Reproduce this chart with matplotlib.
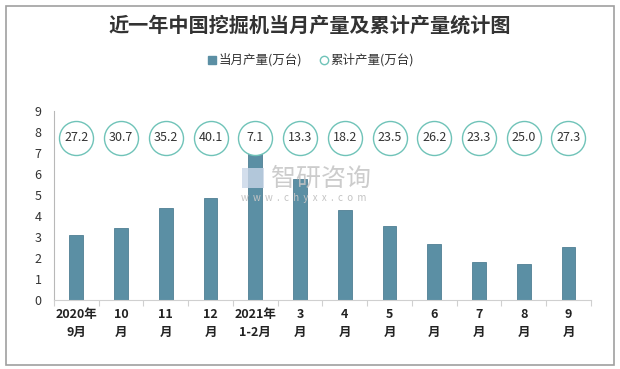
import matplotlib.pyplot as plt
import matplotlib.patches as mpatches
from matplotlib.lines import Line2D

plt.rcParams['font.family'] = ['Noto Sans CJK SC', 'DejaVu Sans']

months = ['2020年\n9月', '10\n月', '11\n月', '12\n月', '2021年\n1-2月', '3\n月',
          '4\n月', '5\n月', '6\n月', '7\n月', '8\n月', '9\n月']
monthly = [3.11, 3.44, 4.39, 4.87, 7.04, 5.77, 4.30, 3.54, 2.69, 1.79, 1.70, 2.54]
cumulative = ['27.2', '30.7', '35.2', '40.1', '7.1', '13.3', '18.2', '23.5',
              '26.2', '23.3', '25.0', '27.3']

bar_color = '#5b8fa4'
circle_color = '#6fc3b8'

fig = plt.figure(figsize=(6.2, 3.69), dpi=100)
ax = fig.add_axes([0.087, 0.187, 0.866, 0.512])

x = range(len(months))
ax.bar(x, monthly, width=0.31, color=bar_color, edgecolor='#4f7f93', linewidth=0.6, zorder=2)

# cumulative values shown as circles in a row near the top
circle_y = 7.72
ax.scatter(x, [circle_y] * len(x), s=600, facecolors='white', edgecolors=circle_color,
           linewidths=1.0, zorder=3, clip_on=False)
for i, v in enumerate(cumulative):
    ax.text(i, circle_y, v, ha='center', va='center', fontsize=9, color='#333333', zorder=4)

ax.set_xlim(-0.5, len(months) - 0.5)
ax.set_ylim(0, 9)
ax.set_yticks(range(10))
ax.tick_params(axis='y', length=0, labelsize=9, colors='#333333', pad=9)
ax.set_xticks([i - 0.5 for i in range(len(months) + 1)], minor=False)
ax.set_xticklabels([])
ax.set_xticks(list(x), minor=True)
ax.set_xticklabels(months, minor=True, fontsize=9, fontweight='bold', color='#222222',
                   linespacing=1.5)
ax.tick_params(axis='x', which='major', length=4, color='#d0d0d0')
ax.tick_params(axis='x', which='minor', length=0, pad=6)

for s in ['top', 'right']:
    ax.spines[s].set_visible(False)
ax.spines['left'].set_color('#b8b8b8')
ax.spines['bottom'].set_color('#d0d0d0')

# watermark
fig.patches.append(mpatches.Rectangle((0.39, 0.49), 0.035, 0.055, transform=fig.transFigure,
                                      facecolor='#c9d6e8', edgecolor='none', alpha=0.8, zorder=1))
fig.text(0.437, 0.515, '智研咨询', fontsize=18, color='#c4c4c4', alpha=0.85, ha='left', va='center')
fig.text(0.388, 0.463, 'w  w  w  .  c  h  y  x  x  .  c  o  m', fontsize=7, color='#c4c4c4',
         ha='left', va='center')

fig.text(0.5, 0.932, '近一年中国挖掘机当月产量及累计产量统计图', ha='center', va='center',
         fontsize=14.5, fontweight='bold', color='#333333')

handles = [
    Line2D([], [], marker='s', linestyle='none', markersize=6, markerfacecolor=bar_color,
           markeredgecolor=bar_color, label='当月产量(万台)'),
    Line2D([], [], marker='o', linestyle='none', markersize=6, markerfacecolor='white',
           markeredgecolor=circle_color, label='累计产量(万台)'),
]
fig.legend(handles=handles, loc='center', bbox_to_anchor=(0.5, 0.837), ncol=2, frameon=False,
           fontsize=9, handletextpad=0.05, columnspacing=1.2, handlelength=1.0,
           labelcolor='#333333')

fig.patches.append(mpatches.Rectangle((0.01, 0.01), 0.98, 0.975, transform=fig.transFigure,
                                      fill=False, edgecolor='#a0a0a0', linewidth=1.2))

fig.savefig('out.png', dpi=100)
